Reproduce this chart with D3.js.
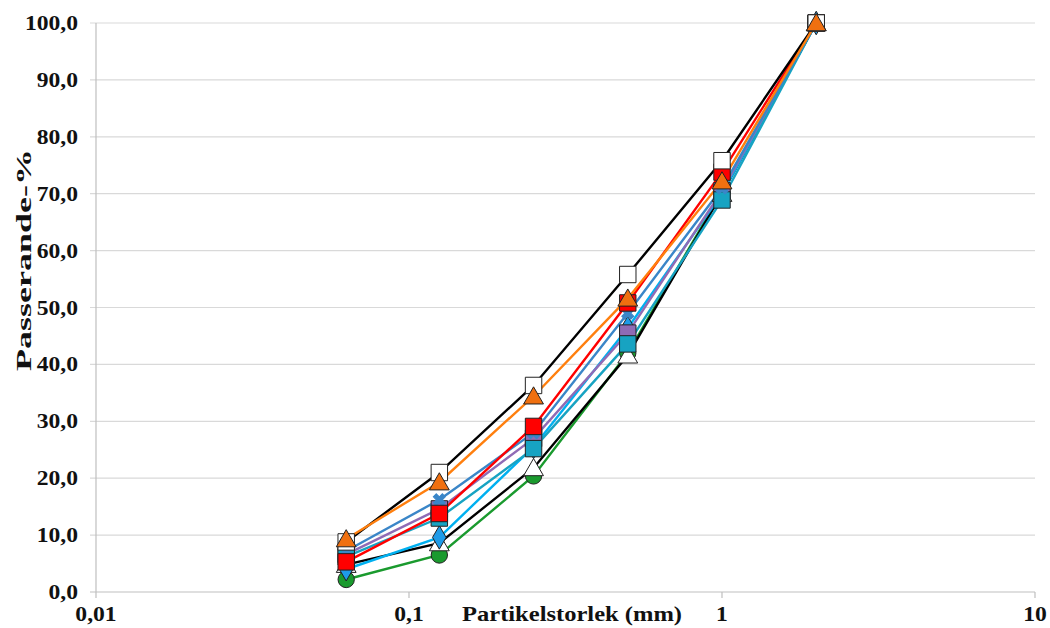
<!DOCTYPE html>
<html>
<head>
<meta charset="utf-8">
<script src="https://cdn.jsdelivr.net/npm/d3@7"></script>
<style>
  body { margin: 0; background: #fff; }
  text { font-family: "Liberation Serif", "Times New Roman", serif; font-weight: bold; fill: #111; }
</style>
</head>
<body>
<div id="chart"></div>
<script>
// sieve sizes (mm) and passing percentages per sample
const sizes = [0.063, 0.125, 0.25, 0.5, 1, 2];
const yTicks = [0, 10, 20, 30, 40, 50, 60, 70, 80, 90, 100];
const xTicks = [0.01, 0.1, 1, 10];
const xTickLabels = ["0,01", "0,1", "1", "10"];

const sGreen    = [2.2, 6.5, 20.4, 42.0, 70.3, 100];
const sBlackTri = [4.8, 8.6, 21.8, 41.6, 70.0, 100];
const sDiamond  = [4.0, 9.6, 25.5, 46.4, 70.0, 100];
const sTeal     = [6.2, 13.0, 25.2, 43.6, 68.9, 100];
const sPurple   = [6.6, 14.6, 27.0, 45.5, 70.5, 100];
const sStar     = [7.2, 16.2, 28.0, 49.0, 71.0, 100];
const sRed      = [5.3, 13.8, 29.1, 50.8, 73.8, 100];
const sWhiteSq  = [8.8, 21.0, 36.3, 55.8, 75.8, 100];
const sOrange   = [9.3, 19.3, 34.4, 51.6, 72.2, 100];

const series = [
  { values: sGreen,    line: "#1a9a2e", marker: "circle",   fill: "#1a9a2e" },
  { values: sBlackTri, line: "#000000", marker: "triangle", fill: "#ffffff" },
  { values: sDiamond,  line: "#00b0f0", marker: "diamond",  fill: "#1e9be8" },
  { values: sPurple,   line: "#8f6bb5", marker: "square",   fill: "#8f6bb5" },
  { values: sTeal,     line: "#17a3c2", marker: "square",   fill: "#17a3c2" },
  { values: sStar,     line: "#3a86c8", marker: "star",     fill: "#3a86c8" },
  { values: sRed,      line: "#ff0000", marker: "square",   fill: "#ff0000" },
  { values: sWhiteSq,  line: "#000000", marker: "square",   fill: "#ffffff" },
  { values: sOrange,   line: "#ff7f0e", marker: "triangle", fill: "#f07010" }
];

const width = 1050, height = 628;
const margin = { left: 96, right: 15, top: 23, bottom: 36 };

const x = d3.scaleLog().domain([0.01, 10]).range([margin.left, width - margin.right]);
const y = d3.scaleLinear().domain([0, 100]).range([height - margin.bottom, margin.top]);

const svg = d3.select("#chart").append("svg")
  .attr("width", width).attr("height", height);

// gridlines
svg.append("g").selectAll("line").data(yTicks.slice(1)).enter().append("line")
  .attr("x1", margin.left - 6).attr("x2", width - margin.right)
  .attr("y1", d => y(d)).attr("y2", d => y(d))
  .attr("stroke", "#d9d9d9").attr("stroke-width", 1.2);

// axes lines
svg.append("line")
  .attr("x1", margin.left).attr("x2", margin.left)
  .attr("y1", y(0)).attr("y2", y(100))
  .attr("stroke", "#bfbfbf").attr("stroke-width", 1.2);
svg.append("line")
  .attr("x1", margin.left - 6).attr("x2", width - margin.right)
  .attr("y1", y(0)).attr("y2", y(0))
  .attr("stroke", "#bfbfbf").attr("stroke-width", 1.2);

// x ticks
svg.append("g").selectAll("line").data(xTicks).enter().append("line")
  .attr("x1", d => x(d)).attr("x2", d => x(d))
  .attr("y1", y(0)).attr("y2", y(0) + 6)
  .attr("stroke", "#bfbfbf").attr("stroke-width", 1.2);

// y tick labels (text is a bit wide in the original)
svg.append("g").selectAll("text").data(yTicks).enter().append("text")
  .attr("transform", d => `translate(${margin.left - 18},${y(d)}) scale(1.18,1)`)
  .attr("dy", "0.35em").attr("text-anchor", "end")
  .attr("font-size", 20)
  .text(d => d3.format(".1f")(d).replace(".", ","));

// x tick labels
svg.append("g").selectAll("text").data(xTicks).enter().append("text")
  .attr("transform", d => `translate(${x(d)},621) scale(1.18,1)`)
  .attr("text-anchor", "middle").attr("font-size", 20)
  .text((d, i) => xTickLabels[i]);

// axis titles
svg.append("text")
  .attr("x", 572).attr("y", 621).attr("text-anchor", "middle")
  .attr("font-size", 21)
  .attr("textLength", 220).attr("lengthAdjust", "spacingAndGlyphs")
  .text("Partikelstorlek (mm)");
svg.append("text")
  .attr("transform", "translate(31,260) rotate(-90)")
  .attr("text-anchor", "middle").attr("font-size", 21)
  .attr("textLength", 222).attr("lengthAdjust", "spacingAndGlyphs")
  .text("Passerande-%");

// lines
const line = d3.line().x((d, i) => x(sizes[i])).y(d => y(d));

const symbols = {
  circle: d3.symbol().type(d3.symbolCircle).size(210),
  triangle: d3.symbol().type(d3.symbolTriangle).size(170),
  diamond: d3.symbol().type(d3.symbolDiamond).size(160),
  square: d3.symbol().type(d3.symbolSquare).size(270),
  star: d3.symbol().type(d3.symbolCross).size(90)
};

series.forEach(s => {
  svg.append("path")
    .attr("d", line(s.values))
    .attr("fill", "none")
    .attr("stroke", s.line)
    .attr("stroke-width", 2.4);
});

series.forEach(s => {
  svg.append("g").selectAll("path").data(s.values).enter().append("path")
    .attr("transform", (d, i) => `translate(${x(sizes[i])},${y(d) + (s.marker === "triangle" ? 2 : 0)})${s.marker === "star" ? " rotate(45)" : ""}`)
    .attr("d", symbols[s.marker]())
    .attr("fill", s.fill)
    .attr("stroke", s.marker === "star" ? s.fill : "#222")
    .attr("stroke-width", 1);
});
</script>
</body>
</html>
